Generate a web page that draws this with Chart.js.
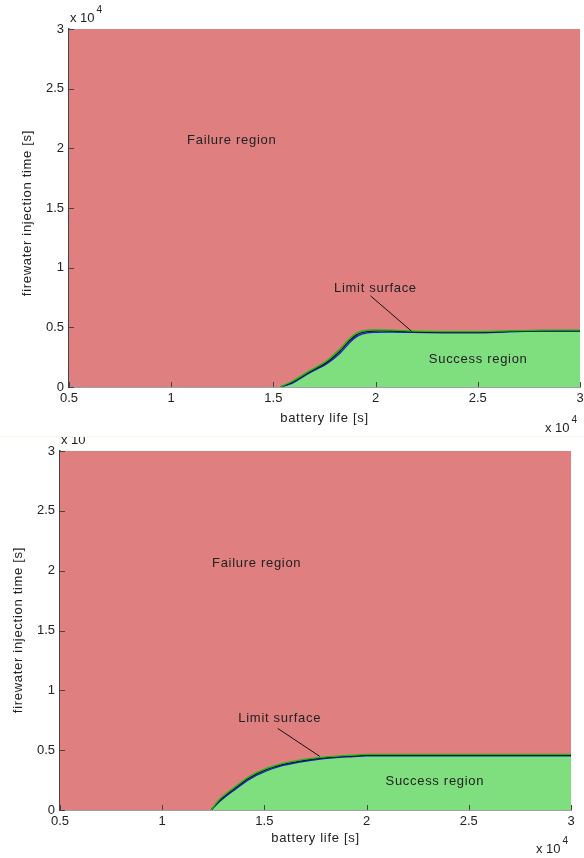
<!DOCTYPE html>
<html>
<head>
<meta charset="utf-8">
<script src="https://cdn.jsdelivr.net/npm/chart.js@4.4.0/dist/chart.umd.min.js"></script>
<style>
  html, body { margin: 0; padding: 0; background: #fff; }
  body { width: 584px; height: 858px; position: relative; overflow: hidden; }
  .panel { position: absolute; left: 0; width: 584px; }
  #sep { position: absolute; left: 0; top: 436px; width: 584px; height: 1px; background: #fdf6ea; }
</style>
</head>
<body>
<div class="panel" style="top:0;height:436px"><canvas id="chart-top" width="584" height="436"></canvas></div>
<div id="sep"></div>
<div class="panel" style="top:437px;height:421px"><canvas id="chart-bottom" width="584" height="421"></canvas></div>
<script>
( function () {
    'use strict';

    // battery life [s] vs firewater injection time [s] along the limit surface
    var topX     = [5000, 15340, 15950, 16770, 17580, 18230, 18720, 19050, 19370, 19860, 20840, 21810, 23280, 24910, 26540, 28160, 30000];
    var topBlack = [0, 0, 420, 1260, 2020, 2950, 3870, 4350, 4580, 4690, 4690, 4630, 4580, 4580, 4660, 4710, 4710];
    var topGreen = [0, 0, 500, 1350, 2150, 3150, 4050, 4500, 4700, 4780, 4760, 4690, 4640, 4640, 4700, 4760, 4760];
    var topBlue  = [0, 0, 350, 1180, 1900, 2780, 3700, 4200, 4450, 4580, 4600, 4570, 4540, 4540, 4620, 4680, 4690];

    var botX     = [5000, 12400, 12810, 13460, 14280, 15100, 15910, 16730, 17550, 18360, 19180, 19990, 21630, 24890, 30000];
    var botBlack = [0, 0, 800, 1690, 2700, 3370, 3810, 4090, 4290, 4420, 4500, 4560, 4560, 4560, 4560];
    var botGreen = [0, 0, 900, 1800, 2820, 3480, 3900, 4170, 4360, 4480, 4560, 4640, 4640, 4640, 4640];
    var botBlue  = [0, 0, 700, 1580, 2580, 3260, 3720, 4010, 4220, 4360, 4450, 4520, 4520, 4520, 4520];

    var xTicks = [5000, 10000, 15000, 20000, 25000, 30000];
    var yTicks = [0, 5000, 10000, 15000, 20000, 25000, 30000];

    var FAIL  = '#e07f7f';
    var OK    = '#7fdf7f';
    var FONT  = '"Liberation Sans", Arial, sans-serif';
    var INK   = '#222';
    var AXIS  = '#444';

    function pts( xs, ys ) {
        return xs.map( function ( x, i ) { return { x: x, y: ys[ i ] }; } );
    }

    // the outline only exists where the surface leaves the axis
    function line( xs, ys, color ) {
        return {
            data: pts( xs, ys ).slice( 1 ), borderColor: color, borderWidth: 1.3,
            pointRadius: 0, fill: false, tension: 0.3,
        };
    }

    function region( xs, ys, color, target ) {
        return {
            data: pts( xs, ys ), borderWidth: 0, backgroundColor: color,
            pointRadius: 0, fill: target, tension: 0.3,
        };
    }

    // MATLAB style inward ticks plus all free text
    var decor = {
        id: 'decor',
        afterDraw: function ( chart, args, o ) {
            var ctx = chart.ctx, a = chart.chartArea;
            var xs = chart.scales.x, ys = chart.scales.y;
            ctx.save();
            ctx.strokeStyle = AXIS;
            ctx.lineWidth = 1;
            ctx.beginPath();
            xTicks.forEach( function ( v ) {
                var p = Math.round( xs.getPixelForValue( v ) ) + 0.5;
                ctx.moveTo( p, a.bottom );
                ctx.lineTo( p, a.bottom - 5 );
            } );
            yTicks.forEach( function ( v ) {
                var p = Math.round( ys.getPixelForValue( v ) ) + 0.5;
                ctx.moveTo( a.left, p );
                ctx.lineTo( a.left + 5, p );
            } );
            ctx.stroke();

            // leader line of the limit surface label
            ctx.strokeStyle = '#111';
            ctx.beginPath();
            ctx.moveTo( xs.getPixelForValue( o.lead[ 0 ] ), ys.getPixelForValue( o.lead[ 1 ] ) );
            ctx.lineTo( xs.getPixelForValue( o.lead[ 2 ] ), ys.getPixelForValue( o.lead[ 3 ] ) );
            ctx.stroke();

            ctx.fillStyle = INK;
            ctx.font = '13px ' + FONT;
            ctx.letterSpacing = '0.7px';
            ctx.textAlign = 'center';
            ctx.textBaseline = 'middle';
            o.notes.forEach( function ( n ) {
                ctx.fillText( n[ 0 ], xs.getPixelForValue( n[ 1 ] ), ys.getPixelForValue( n[ 2 ] ) );
            } );

            // axis titles
            ctx.fillText( 'battery life [s]', ( a.left + a.right ) / 2, a.bottom + o.xTitle );
            ctx.save();
            ctx.translate( o.yTitle, o.yMid );
            ctx.rotate( -Math.PI / 2 );
            ctx.fillText( 'firewater injection time [s]', 0, 0 );
            ctx.restore();

            // exponent labels
            ctx.letterSpacing = '0px';
            function expo( x, y, showSup ) {
                ctx.textAlign = 'left';
                ctx.textBaseline = 'alphabetic';
                ctx.font = '13px ' + FONT;
                ctx.fillText( 'x 10', x, y );
                var w = ctx.measureText( 'x 10' ).width;
                if ( showSup ) {
                    ctx.font = '10px ' + FONT;
                    ctx.fillText( '4', x + w + 2, y - 9 );
                }
            }
            expo( a.left + 1, a.top + o.topExp, o.topSup );
            expo( a.right - 35, a.bottom + o.botExp, true );
            ctx.restore();
        },
    };

    function build( id, xs, black, green, blue, geo, opts ) {
        var canvas = document.getElementById( id );
        return new Chart( canvas, {
            type: 'line',
            data: {
                datasets: [
                    line( xs, green, '#0cc00c' ),
                    line( xs, black, '#111' ),
                    line( xs, blue, '#1020e0' ),
                    region( xs, black, OK, 'origin' ),
                    region( xs, black, FAIL, 'end' ),
                ],
            },
            options: {
                responsive: false,
                animation: false,
                layout: { padding: { top: geo.top, right: geo.right, left: 0, bottom: 0 } },
                plugins: { legend: { display: false }, tooltip: { enabled: false }, decor: opts },
                scales: {
                    x: {
                        type: 'linear', min: 5000, max: 30000,
                        afterFit: function ( s ) {
                            s.height = geo.xh;
                            s.paddingLeft = 0;
                            s.paddingRight = 0;
                        },
                        afterBuildTicks: function ( s ) { s.ticks = xTicks.map( function ( v ) { return { value: v }; } ); },
                        grid: { display: false, drawTicks: false },
                        border: { display: true, color: AXIS, width: 1.5 },
                        ticks: {
                            padding: 4, color: INK, maxRotation: 0, autoSkip: false,
                            font: { family: FONT, size: 13 },
                            callback: function ( v ) { return String( v / 10000 ); },
                        },
                    },
                    y: {
                        type: 'linear', min: 0, max: 30000,
                        afterFit: function ( s ) {
                            s.width = geo.yw;
                            s.paddingTop = 0;
                            s.paddingBottom = 0;
                        },
                        afterBuildTicks: function ( s ) { s.ticks = yTicks.map( function ( v ) { return { value: v }; } ); },
                        grid: { display: false, drawTicks: false },
                        border: { display: true, color: AXIS, width: 1.5 },
                        ticks: {
                            padding: 5, color: INK, autoSkip: false,
                            font: { family: FONT, size: 13 },
                            callback: function ( v ) { return String( v / 10000 ); },
                        },
                    },
                },
            },
            plugins: [ decor ],
        } );
    }

    build( 'chart-top', topX, topBlack, topGreen, topBlue,
        { top: 29, right: 4, xh: 49, yw: 69 },
        {
            notes: [
                [ 'Failure region', 12960, 20690 ],
                [ 'Limit surface', 19990, 8230 ],
                [ 'Success region', 25020, 2330 ],
            ],
            lead: [ 19750, 7640, 21750, 4690 ],
            xTitle: 31, yTitle: 27, yMid: 213, topExp: -7, topSup: true, botExp: 45,
        } );

    build( 'chart-bottom', botX, botBlack, botGreen, botBlue,
        { top: 14, right: 13, xh: 48, yw: 60 },
        {
            notes: [
                [ 'Failure region', 14620, 20630 ],
                [ 'Limit surface', 15750, 7660 ],
                [ 'Success region', 23340, 2390 ],
            ],
            lead: [ 15650, 6820, 17710, 4480 ],
            xTitle: 28, yTitle: 18, yMid: 193, topExp: -7, topSup: false, botExp: 43,
        } );

} )();
</script>
</body>
</html>
